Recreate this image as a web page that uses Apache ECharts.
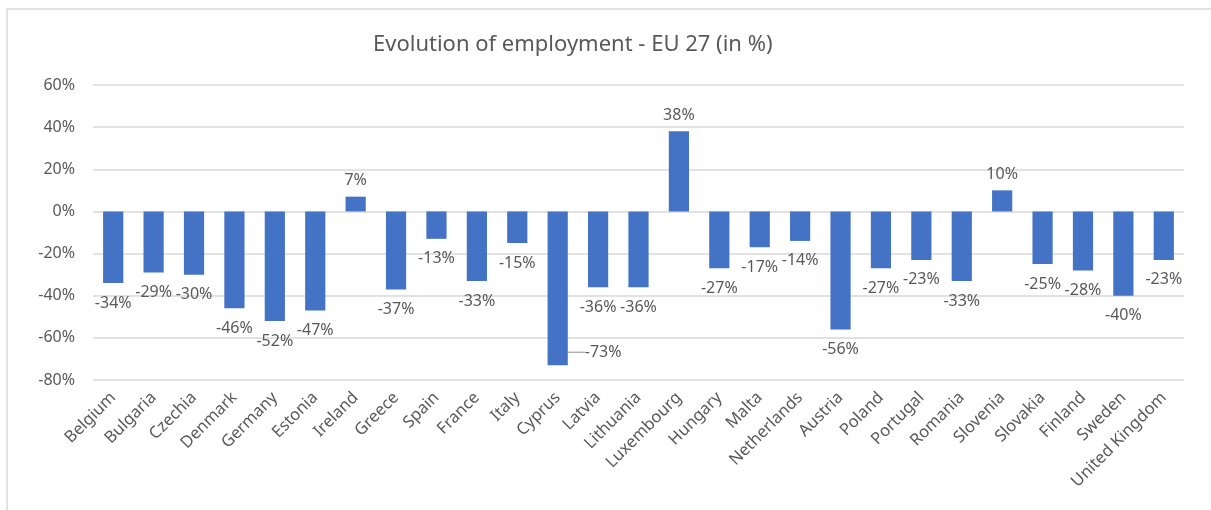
<!DOCTYPE html>
<html>
<head>
<meta charset="utf-8">
<script src="https://cdn.jsdelivr.net/npm/echarts@6/dist/echarts.min.js"></script>
<style>
html,body{margin:0;padding:0;background:#fff;}
#chart{width:1211px;height:510px;}
</style>
</head>
<body>
<div id="chart"></div>
<script>
const titleText = 'Evolution of employment - EU 27 (in %)';
const categories = ['Belgium','Bulgaria','Czechia','Denmark','Germany','Estonia','Ireland','Greece','Spain','France','Italy','Cyprus','Latvia','Lithuania','Luxembourg','Hungary','Malta','Netherlands','Austria','Poland','Portugal','Romania','Slovenia','Slovakia','Finland','Sweden','United Kingdom'];
const values = [-34,-29,-30,-46,-52,-47,7,-37,-13,-33,-15,-73,-36,-36,38,-27,-17,-14,-56,-27,-23,-33,10,-25,-28,-40,-23];
const yTicks = {min:-80, max:60, interval:20};

const txt = '#595959';
const font = 'Noto Sans';

const data = values.map((v, i) => {
  const item = {
    value: v,
    label: {position: v >= 0 ? 'top' : 'bottom', distance: v >= 0 ? 8 : 12}
  };
  if (categories[i] === 'Cyprus') {
    item.labelLine = {show: true, lineStyle: {color: '#a6a6a6', width: 1.3}};
  }
  return item;
});

const chart = echarts.init(document.getElementById('chart'), null, {renderer: 'canvas'});
chart.setOption({
  animation: false,
  backgroundColor: '#ffffff',
  textStyle: {fontFamily: font},
  title: {
    text: titleText,
    left: 368, top: 29,
    textStyle: {fontFamily: font, fontSize: 22, fontWeight: 'normal', color: txt}
  },
  graphic: [{
    type: 'rect', silent: true, z: -10,
    shape: {x: 7, y: 9, width: 1240, height: 540},
    style: {fill: 'none', stroke: '#d9d9d9', lineWidth: 1.5}
  }],
  grid: {left: 93, right: 27, top: 85, bottom: 130, containLabel: false},
  xAxis: {
    type: 'category',
    data: categories,
    axisLine: {show: false},
    axisTick: {show: false},
    axisLabel: {rotate: 45, color: txt, fontSize: 16.5, fontFamily: font, margin: 15, interval: 0}
  },
  yAxis: {
    type: 'value',
    min: yTicks.min, max: yTicks.max, interval: yTicks.interval,
    axisLine: {show: false},
    axisTick: {show: false},
    axisLabel: {formatter: '{value}%', color: txt, fontSize: 16, fontFamily: font, margin: 18},
    splitLine: {lineStyle: {color: '#d9d9d9', width: 1.5}}
  },
  series: [{
    type: 'bar',
    data: data,
    barWidth: '50%',
    itemStyle: {color: '#4472c4'},
    label: {show: true, formatter: '{c}%', color: txt, fontSize: 16, fontFamily: font},
    labelLine: {show: false},
    labelLayout: function (p) {
      if (p.dataIndex === 11) {
        return {x: p.rect.x + p.rect.width + 17, y: p.rect.y + p.rect.height - 13, align: 'left', verticalAlign: 'middle'};
      }
    }
  }]
});
</script>
</body>
</html>
